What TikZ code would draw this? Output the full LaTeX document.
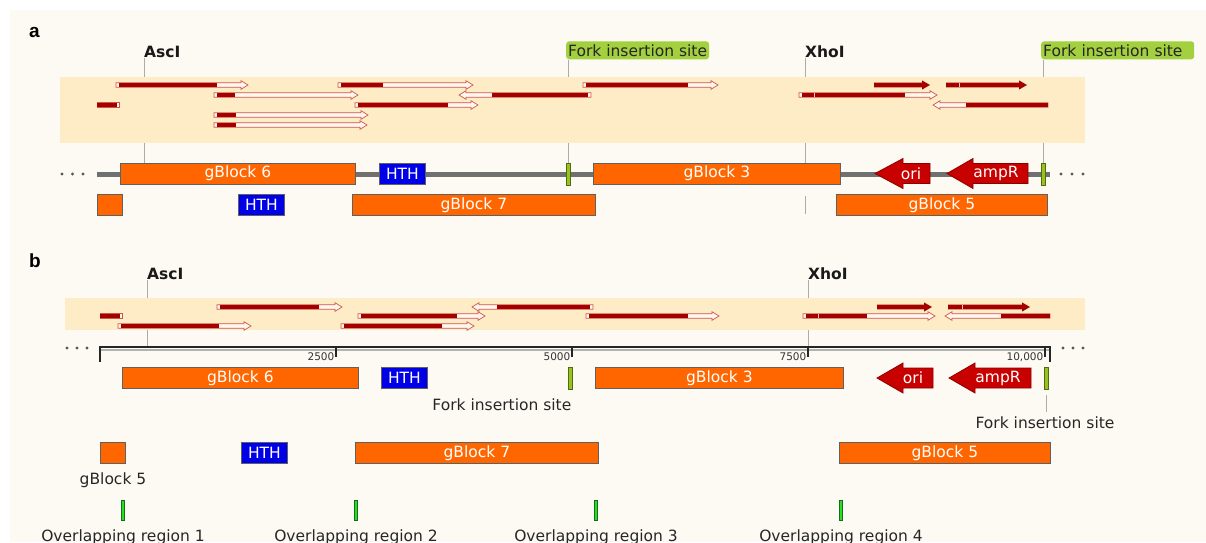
\documentclass[tikz,border=0pt]{standalone}
\usepackage{fontspec}
\setmainfont{DejaVu Sans}
\newfontfamily\panelfont{Liberation Sans}
\usetikzlibrary{calc}
\definecolor{bgcream}{RGB}{253,250,243}
\definecolor{bandcol}{RGB}{253,236,197}
\definecolor{orng}{RGB}{255,102,0}
\definecolor{blu}{RGB}{0,0,230}
\definecolor{dred}{RGB}{200,0,0}
\definecolor{readdark}{RGB}{165,0,0}
\definecolor{readedge}{RGB}{205,85,75}
\definecolor{readfill}{RGB}{255,247,238}
\definecolor{forkgreen}{RGB}{150,195,30}
\definecolor{forklab}{RGB}{162,208,62}
\definecolor{ovgreen}{RGB}{40,220,40}
\definecolor{backbone}{RGB}{112,112,112}
\newcommand\ftmain{\fontsize{15.5}{18}\selectfont}
\newcommand\ftbold{\fontsize{15.5}{18}\selectfont\bfseries}
\newcommand\ftsmall{\fontsize{10.5}{12}\selectfont}
\newcommand\fwdread[4]{% y x0 xdark xtip
  \filldraw[rdline, fill=readfill] (#2,#1-2.3) -- (#4-7,#1-2.3) -- (#4-7,#1-4.3) -- (#4,#1) -- (#4-7,#1+4.3) -- (#4-7,#1+2.3) -- (#2,#1+2.3) -- cycle;
  \fill[readdark] (#2+3,#1-2.3) rectangle (#3,#1+2.3);}
\newcommand\revread[4]{% y xtip xdark xend (white box)
  \filldraw[rdline, fill=readfill] (#4,#1-2.3) -- (#2+7,#1-2.3) -- (#2+7,#1-4.3) -- (#2,#1) -- (#2+7,#1+4.3) -- (#2+7,#1+2.3) -- (#4,#1+2.3) -- cycle;
  \fill[readdark] (#3,#1-2.3) rectangle (#4-3,#1+2.3);}
\newcommand\revreadnb[4]{% y xtip xdark xend
  \filldraw[rdline, fill=readfill] (#4,#1-2.3) -- (#2+7,#1-2.3) -- (#2+7,#1-4.3) -- (#2,#1) -- (#2+7,#1+4.3) -- (#2+7,#1+2.3) -- (#4,#1+2.3) -- cycle;
  \fill[readdark] (#3,#1-2.3) rectangle (#4,#1+2.3);}
\newcommand\solread[3]{% y x0 xtip
  \fill[readdark] (#2,#1-2.4) -- (#3-8,#1-2.4) -- (#3-8,#1-4.6) -- (#3,#1) -- (#3-8,#1+4.6) -- (#3-8,#1+2.4) -- (#2,#1+2.4) -- cycle;}
\newcommand\barread[3]{% y x0 x1
  \filldraw[rdline, fill=readfill] (#2,#1-2.3) rectangle (#3,#1+2.3);
  \fill[readdark] (#2,#1-2.3) rectangle (#3-2.5,#1+2.3);}
\newcommand\rtick[2]{\draw[white!75!red, line width=0.7pt] (#2,#1-2.3) -- (#2,#1+2.3);}
\newcommand\featarrow[4]{% yc xtip xbase xend
  \filldraw[fill=dred, draw=dred!70!black, line width=0.8pt] (#2,#1) -- (#3,#1-15) -- (#3,#1-10) -- (#4,#1-10) -- (#4,#1+10) -- (#3,#1+10) -- (#3,#1+15) -- cycle;}
\tikzset{
  rdline/.style={draw=readedge, line width=0.7pt},
  feat/.style={draw=gray!75!black, line width=0.8pt, text=white, font=\ftmain, minimum height=21pt, inner sep=0pt, anchor=west},
  obox/.style={feat, fill=orng},
  hbox/.style={feat, fill=blu},
  sitebox/.style={fill=forkgreen, draw=forkgreen!55!black, line width=0.6pt, minimum width=4pt, minimum height=22pt, inner sep=0pt},
  ovbox/.style={fill=ovgreen, draw=ovgreen!50!black, line width=0.5pt, minimum width=3pt, minimum height=20pt, inner sep=0pt},
  pinline/.style={draw=gray!65, line width=0.9pt},
  forktag/.style={fill=forklab, rounded corners=3pt, font=\ftmain, text=black!85, inner xsep=2pt, inner ysep=0pt, minimum height=18pt, anchor=south west},
  enzyme/.style={font=\ftbold, text=black!90, inner sep=0pt, anchor=south west},
  plain/.style={font=\ftmain, text=black!85, inner sep=0pt},
  arrowtext/.style={font=\ftmain, text=white, inner sep=0pt},
  rulertxt/.style={font=\ftsmall, text=black!80, inner sep=0pt, anchor=base east},
  dotsty/.style={fill=black!65},
  panellab/.style={font=\panelfont\fontsize{19}{21}\selectfont\bfseries, inner sep=0pt, anchor=base west}
}
\begin{document}
\begin{tikzpicture}[x=1pt,y=-1pt]
\useasboundingbox (0,0) rectangle (1206,542);
\fill[white] (0,0) rectangle (1206,542);
\fill[bgcream] (10,10) rectangle (1206,542);

%% ================= panel a =================
\node[panellab] (pa) at (29,37) {a};
% backbone
\draw[backbone, line width=5pt] (97,174) -- (1050,174);
\foreach \x in {62,72.5,83,1061,1072,1083} \fill[dotsty] (\x,174) circle (1.6);
% features row 1
\node[obox, minimum width=235pt] (g6a) at (120,173.5) {gBlock 6};
\node[hbox, minimum width=46pt] (htha) at (379,173.5) {HTH};
\node[sitebox] (fka1) at (568,174) {};
\node[obox, minimum width=247pt] (g3a) at (593,173.5) {gBlock 3};
\featarrow{173.5}{875}{903}{930}
\node[arrowtext] (oria) at (911,173.5) {ori};
\featarrow{173.5}{947}{973}{1028}
\node[arrowtext] (ampa) at (996,173.5) {ampR};
\node[sitebox] (fka2) at (1043.5,174) {};
% features row 2
\node[obox, minimum width=25pt] (g5sa) at (97,205) {};
\node[hbox, minimum width=46pt] (hth2a) at (238,205) {HTH};
\node[obox, minimum width=243pt] (g7a) at (352,205) {gBlock 7};
\node[obox, minimum width=211pt] (g5a) at (836,205) {gBlock 5};
\coordinate (xhoa2t) at (805,196);
\coordinate (xhoa2b) at (805,214);
\draw[pinline] (xhoa2t) -- (xhoa2b);
% labels
\node[enzyme] (asca) at (144,58) {AscI};
\node[enzyme] (xhoa) at (805,58) {XhoI};
\node[forktag] (taga1) at (566,59.5) {Fork insertion site};
\node[forktag, minimum width=153pt, align=left, text width=149pt] (taga2) at (1041,59.5) {Fork insertion site};
\draw[pinline] (asca.south west) -- (asca.south west |- g6a.north);
\draw[pinline] (xhoa.south west) -- (xhoa.south west |- g3a.north);
\draw[pinline] (fka1.north) -- (fka1.north |- taga1.south);
\draw[pinline] (fka2.north) -- (fka2.north |- taga2.south);
% reads band
\fill[bandcol] (60,77) rectangle (1085,143);
\fwdread{85}{116}{217}{248}
\fwdread{85}{338}{383}{473}
\fwdread{85}{583}{688}{718}
\solread{85}{874}{930}
\solread{85}{946}{1027}
\rtick{85}{959}
\fwdread{95}{214}{235}{358}
\revread{95}{459}{492}{591}
\fwdread{95}{799}{905}{937}
\rtick{95}{814}
\barread{105}{97}{119}
\fwdread{105}{355}{448}{478}
\revreadnb{105}{933}{966}{1048}
\fwdread{115}{214}{236}{368}
\fwdread{125}{214}{236}{367}

%% ================= panel b =================
\node[panellab] (pb) at (29,267) {b};
% labels & pins
\coordinate (rulL) at (100,347);
\coordinate (rulR) at (1050,347);
\node[enzyme] (ascb) at (147,280) {AscI};
\node[enzyme] (xhob) at (808,280) {XhoI};
\draw[pinline] (ascb.south west) -- (ascb.south west |- rulL);
\draw[pinline] (xhob.south west) -- (xhob.south west |- rulL);
% band and reads
\fill[bandcol] (65,298) rectangle (1085,330);
\fwdread{307}{217}{319}{342}
\revread{307}{472}{497}{593}
\solread{307}{877}{932}
\solread{307}{948}{1030}
\rtick{307}{962}
\barread{316}{100}{122}
\fwdread{316}{358}{457}{485}
\fwdread{316}{586}{688}{719}
\fwdread{316}{803}{867}{935}
\rtick{316}{818}
\revreadnb{316}{945}{1001}{1050}
\fwdread{326}{118}{219}{251}
\fwdread{326}{341}{442}{474}
% ruler
\draw[black!30, line width=2pt] ($(rulL)+(0,3.3)$) -- ($(rulR)+(0,3.3)$);
\draw[black!85, line width=2.2pt] (rulL) -- (rulR);
\draw[black!85, line width=2pt] ($(rulL)+(0,-1)$) -- ($(rulL)+(0,14.5)$);
\draw[black!85, line width=2pt] ($(rulR)+(0,-1)$) -- ($(rulR)+(0,15)$);
\foreach \x/\t [count=\i] in {336/2500,572/5000,808/7500,1045/{10,000}}{
  \draw[black!85, line width=1.4pt] (\x,346) -- (\x,357);
  \node[rulertxt] (tk\i) at (\x-1.5,360.5) {\t};
}
\foreach \x in {67,77,87,1063,1073,1083} \fill[dotsty] (\x,348) circle (1.6);
% features row 1
\node[obox, minimum width=236pt] (g6b) at (122,378) {gBlock 6};
\node[hbox, minimum width=46pt] (hthb) at (381,378) {HTH};
\node[sitebox] (fkb1) at (570,378) {};
\node[obox, minimum width=248pt] (g3b) at (595,378) {gBlock 3};
\featarrow{378}{877}{903}{933}
\node[arrowtext] (orib) at (913,378) {ori};
\featarrow{378}{949}{975}{1031}
\node[arrowtext] (ampb) at (998,378) {ampR};
\node[sitebox] (fkb2) at (1046,378) {};
\node[plain, anchor=base east] (fkb1lab) at (571.5,410) {Fork insertion site};
\node[plain, anchor=base] (fkb2lab) at (1045,428) {Fork insertion site};
\draw[pinline] ([yshift=-6pt]fkb2.south) -- ([yshift=4pt]fkb2.south |- fkb2lab.north);
% features row 2
\node[obox, minimum width=25pt] (g5sb) at (100,453) {};
\node[plain, anchor=base] (g5sblab) at (113,484) {gBlock 5};
\node[hbox, minimum width=46pt] (hth2b) at (241,453) {HTH};
\node[obox, minimum width=243pt] (g7b) at (355,453) {gBlock 7};
\node[obox, minimum width=211pt] (g5b) at (839,453) {gBlock 5};
% overlapping regions
\foreach \x [count=\i] in {123,356,596,841}{
  \node[ovbox] (ov\i) at (\x,510) {};
  \node[plain, anchor=base] (ovlab\i) at (\x,541) {Overlapping region \i};
}
\end{tikzpicture}
\end{document}
